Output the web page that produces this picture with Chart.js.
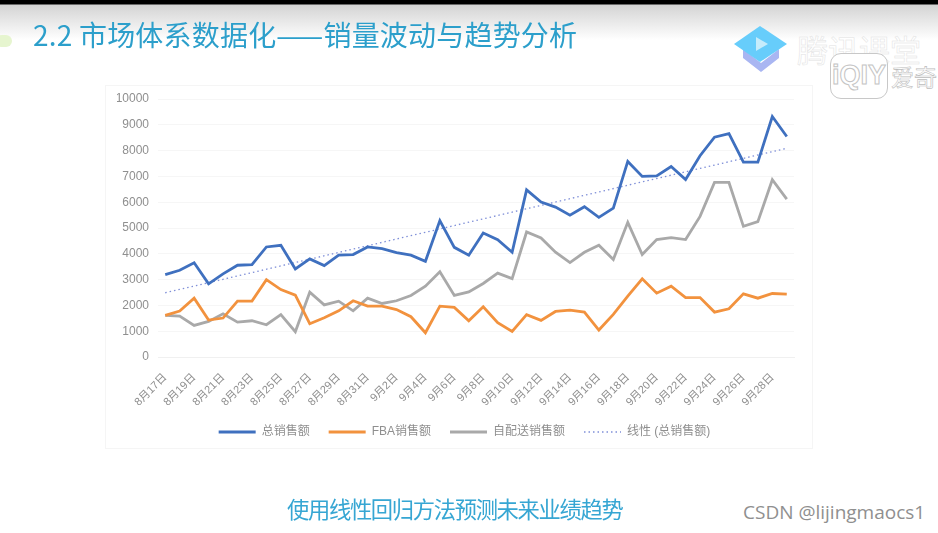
<!DOCTYPE html>
<html>
<head>
<meta charset="utf-8">
<script src="https://cdn.jsdelivr.net/npm/chart.js@4"></script>
<style>
html, body { margin: 0; padding: 0; background: #fff; }
#page { position: relative; width: 938px; height: 533px; overflow: hidden; background: #fff; font-family: "Noto Sans CJK SC", sans-serif; }
#topbar { position: absolute; left: 0; top: 0; width: 938px; height: 40px; background: linear-gradient(#000 0, #000 4px, #d4d4d4 5px, #fff 40px); }
#title { position: absolute; left: 33px; top: 14px; font-size: 28px; letter-spacing: 0.2px; line-height: 40px; color: #2c9fcb; white-space: nowrap; filter: blur(0.5px); }
#blob { position: absolute; left: -4px; top: 35px; width: 16px; height: 12px; border-radius: 6px; background: #e6f5cf; }
#panel { position: absolute; left: 105px; top: 85px; width: 708px; height: 364px; box-sizing: border-box; border: 1px solid #f5f5f5; filter: blur(0.5px); }
#footer { position: absolute; left: 287px; top: 491px; font-size: 22.3px; letter-spacing: -0.06em; line-height: 34px; color: #36a6d3; white-space: nowrap; filter: blur(0.5px); }
#csdn { position: absolute; left: 743px; top: 498px; font-family: "Open Sans", sans-serif; font-size: 19px; line-height: 28px; color: #8f8f8f; white-space: nowrap; }
#logo { position: absolute; left: 733px; top: 25px; }
#wm1 { position: absolute; left: 797px; top: 27px; font-size: 31px; line-height: 44px; color: #fff; -webkit-text-stroke: 0.5px #e2e2e2; white-space: nowrap; }
#iq { position: absolute; left: 830px; top: 53px; width: 58px; height: 46px; box-sizing: border-box; border: 1.5px solid #c8c8c8; border-radius: 11px; background: #fff; font: bold 27px/43px "Liberation Sans", sans-serif; color: #fff; -webkit-text-stroke: 1px #c4c4c4; text-align: center; }
#wm2 { position: absolute; left: 891px; top: 60px; font-size: 23px; line-height: 32px; color: #fff; -webkit-text-stroke: 0.6px #bcbcbc; white-space: nowrap; }
</style>
</head>
<body>
<div id="page">
    <div id="topbar"></div>
    <div id="blob"></div>
    <div id="title">2.2 市场体系数据化——销量波动与趋势分析</div>
    <svg id="logo" width="56" height="50" viewBox="0 0 56 50">
        <polygon points="10,24 28,38 46,24 46,33 28,47 10,33" fill="#a9b6f2"/>
        <polygon points="1,19 27,1 54,19 27,37" fill="#67cdfb"/>
        <polygon points="23,12 23,26 35,19" fill="#c6ecfb"/>
    </svg>
    <div id="wm1">腾讯课堂</div>
    <div id="iq">iQIY</div>
    <div id="wm2">爱奇</div>
    <div id="panel"><canvas id="chart" width="706" height="362"></canvas></div>
    <div id="footer">使用线性回归方法预测未来业绩趋势</div>
    <div id="csdn">CSDN @lijingmaocs1</div>
</div>
<script>
var dates = ["8月17日","8月18日","8月19日","8月20日","8月21日","8月22日","8月23日","8月24日","8月25日","8月26日","8月27日",
    "8月28日","8月29日","8月30日","8月31日","9月1日","9月2日","9月3日","9月4日","9月5日","9月6日","9月7日",
    "9月8日","9月9日","9月10日","9月11日","9月12日","9月13日","9月14日","9月15日","9月16日","9月17日","9月18日",
    "9月19日","9月20日","9月21日","9月22日","9月23日","9月24日","9月25日","9月26日","9月27日","9月28日","9月29日"];
var totalSales = [3196,3360,3650,2835,3220,3557,3580,4265,4330,3415,3800,3545,3945,3970,4265,4200,4050,3945,3710,5285,4250,3945,
    4807,4550,4060,6480,6005,5810,5500,5825,5410,5770,7580,7000,7020,7385,6880,7800,8520,8660,7550,7550,9320,8545];
var fbaSales = [1610,1780,2280,1430,1510,2165,2165,3000,2615,2400,1290,1520,1790,2180,1970,1970,1840,1560,940,1970,1920,1405,
    1945,1330,990,1640,1420,1765,1815,1740,1045,1650,2360,3030,2475,2745,2305,2305,1740,1870,2450,2280,2460,2435];
var selfSales = [1610,1585,1225,1380,1675,1350,1405,1250,1640,980,2510,2020,2165,1790,2280,2075,2180,2385,2745,3300,2385,2525,
    2850,3250,3040,4845,4615,4060,3660,4060,4330,3775,5220,3970,4550,4625,4550,5450,6765,6765,5065,5245,6870,6120];
// only the two ends of the trend line are read, the line spans the gap
var trendSales = [2490,null,null,null,null,null,null,null,null,null,null,null,null,null,null,null,null,null,null,null,null,null,
    null,null,null,null,null,null,null,null,null,null,null,null,null,null,null,null,null,null,null,null,null,8090];

var textColor = "#8f8f8f";
var fontFamily = '"Liberation Sans", "Noto Sans CJK SC", sans-serif';

var ctx = document.getElementById("chart").getContext("2d");
var myChart = new Chart(ctx, {
    type: "line",
    data: {
        labels: dates,
        datasets: [
            { label: "总销售额", data: totalSales, borderColor: "#3f70bf", borderWidth: 2.8, pointRadius: 0, tension: 0 },
            { label: "FBA销售额", data: fbaSales, borderColor: "#f2923e", borderWidth: 2.8, pointRadius: 0, tension: 0 },
            { label: "自配送销售额", data: selfSales, borderColor: "#a9a9a9", borderWidth: 2.8, pointRadius: 0, tension: 0 },
            { label: "线性 (总销售额)", data: trendSales, borderColor: "#7f8fd8", borderWidth: 1.3, borderDash: [1.5, 3], pointRadius: 0, spanGaps: true, tension: 0 },
        ],
    },
    options: {
        responsive: false,
        animation: false,
        layout: { padding: { left: 11, right: 0, top: 13, bottom: 0 } },
        plugins: {
            tooltip: { enabled: false },
            legend: {
                position: "bottom",
                labels: {
                    color: textColor,
                    font: { size: 12, family: fontFamily },
                    boxWidth: 37,
                    boxHeight: 11,
                    padding: 19,
                    usePointStyle: true,
                    pointStyleWidth: 37,
                    generateLabels: function (chart) {
                        return chart.data.datasets.map(function (ds, i) {
                            return {
                                text: ds.label,
                                datasetIndex: i,
                                pointStyle: "line",
                                strokeStyle: ds.borderColor,
                                fillStyle: ds.borderColor,
                                lineWidth: i == 3 ? 1.3 : 3,
                                lineDash: ds.borderDash || [],
                                fontColor: textColor,
                            };
                        });
                    },
                },
            },
        },
        scales: {
            x: {
                offset: true,
                grid: { display: false },
                border: { color: "#f0f0f0" },
                ticks: {
                    color: textColor,
                    font: { size: 11, family: fontFamily },
                    autoSkip: false,
                    maxRotation: 45,
                    minRotation: 45,
                    padding: 6,
                    callback: function (value, index) {
                        return index % 2 == 0 ? dates[index] : "";
                    },
                },
                afterFit: function (scale) {
                    scale.height = 50;
                    scale.paddingRight = 18;
                    scale.paddingLeft = 0;
                },
            },
            y: {
                min: 0,
                max: 10000,
                grid: { color: "#f6f6f6", drawTicks: false },
                border: { display: false },
                ticks: {
                    color: textColor,
                    font: { size: 12, family: fontFamily },
                    stepSize: 1000,
                    padding: 9,
                    callback: function (value) { return String(value); },
                },
                afterFit: function (scale) {
                    scale.width = 41;
                    scale.paddingTop = 0;
                    scale.paddingBottom = 0;
                },
            },
        },
    },
});
</script>
</body>
</html>
